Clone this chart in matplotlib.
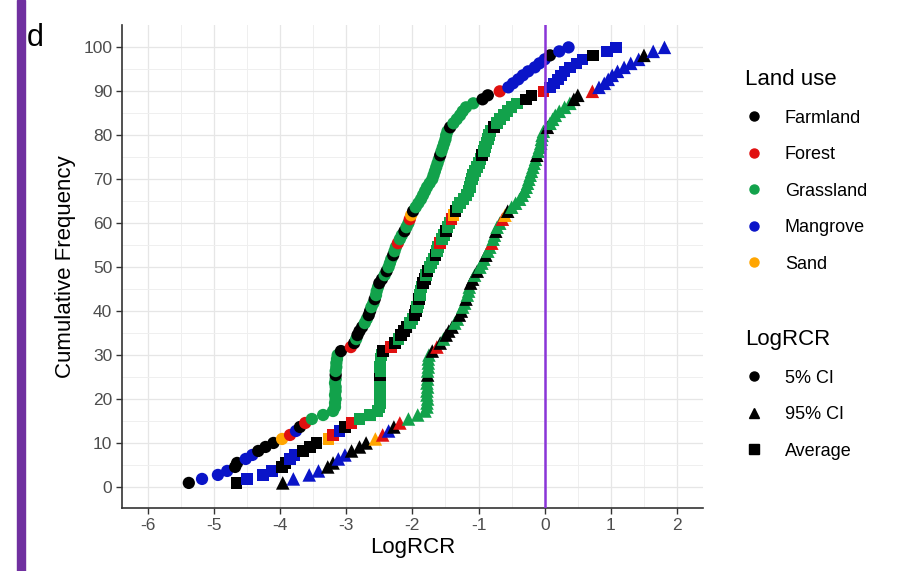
import numpy as np
import matplotlib.pyplot as plt
from matplotlib.lines import Line2D
from matplotlib.patches import Rectangle

plt.rcParams['font.family'] = ['Liberation Sans', 'DejaVu Sans']
plt.rcParams['axes.unicode_minus'] = False

# land use classes and their colours
land_use_names = ['Farmland', 'Forest', 'Grassland', 'Mangrove', 'Sand']
land_use_colors = {'Farmland': '#000000', 'Forest': '#E01010', 'Grassland': '#12A24B',
                   'Mangrove': '#0A14C8', 'Sand': '#FFA500'}

# land use of each study, in rank order (run lengths)
land_use_runs = [
    ('Farmland', 1), ('Mangrove', 3), ('Farmland', 2), ('Mangrove', 2), ('Farmland', 3),
    ('Sand', 1), ('Forest', 1), ('Mangrove', 1), ('Farmland', 1), ('Forest', 1),
    ('Grassland', 11), ('Farmland', 1), ('Grassland', 5), ('Farmland', 1), ('Forest', 1),
    ('Farmland', 1), ('Grassland', 1), ('Farmland', 3), ('Grassland', 2), ('Farmland', 2),
    ('Grassland', 2), ('Farmland', 1), ('Grassland', 3), ('Farmland', 2), ('Grassland', 1),
    ('Farmland', 1), ('Grassland', 3), ('Farmland', 1), ('Grassland', 2), ('Forest', 1),
    ('Grassland', 2), ('Farmland', 1), ('Grassland', 2), ('Forest', 1), ('Sand', 1),
    ('Farmland', 1), ('Grassland', 13), ('Farmland', 1), ('Grassland', 6), ('Farmland', 1),
    ('Grassland', 6), ('Farmland', 2), ('Forest', 1), ('Mangrove', 8), ('Farmland', 1),
    ('Mangrove', 2),
]

# LogRCR values, sorted
ci5 = [
    -5.38, -5.18, -4.94, -4.80, -4.68, -4.65, -4.52, -4.42, -4.33, -4.22,
    -4.10, -3.97, -3.85, -3.76, -3.70, -3.62, -3.52, -3.35, -3.20, -3.17,
    -3.17, -3.16, -3.17, -3.16, -3.16, -3.17, -3.16, -3.16, -3.16, -3.15,
    -3.15, -3.14, -3.13, -3.08, -2.93, -2.88, -2.85, -2.83, -2.80, -2.76,
    -2.72, -2.69, -2.66, -2.64, -2.62, -2.59, -2.57, -2.55, -2.54, -2.52,
    -2.50, -2.46, -2.42, -2.39, -2.36, -2.34, -2.32, -2.29, -2.27, -2.25,
    -2.22, -2.19, -2.16, -2.12, -2.09, -2.06, -2.04, -2.02, -1.99, -1.95,
    -1.91, -1.87, -1.84, -1.81, -1.78, -1.74, -1.70, -1.68, -1.66, -1.64,
    -1.62, -1.60, -1.58, -1.56, -1.54, -1.52, -1.50, -1.49, -1.47, -1.43,
    -1.38, -1.33, -1.28, -1.24, -1.19, -1.08, -0.94, -0.86, -0.68, -0.55,
    -0.48, -0.40, -0.33, -0.25, -0.15, -0.08, 0.00, 0.08, 0.22, 0.36,
]
average = [
    -4.66, -4.50, -4.26, -4.12, -3.97, -3.92, -3.85, -3.78, -3.65, -3.55,
    -3.45, -3.27, -3.20, -3.10, -3.02, -2.92, -2.80, -2.64, -2.53, -2.50,
    -2.49, -2.50, -2.49, -2.49, -2.50, -2.49, -2.49, -2.49, -2.48, -2.49,
    -2.48, -2.48, -2.47, -2.44, -2.32, -2.26, -2.21, -2.17, -2.13, -2.09,
    -2.04, -2.00, -1.97, -1.95, -1.93, -1.91, -1.90, -1.89, -1.88, -1.86,
    -1.84, -1.81, -1.79, -1.77, -1.74, -1.71, -1.68, -1.65, -1.63, -1.61,
    -1.58, -1.55, -1.52, -1.49, -1.47, -1.44, -1.41, -1.38, -1.35, -1.32,
    -1.28, -1.23, -1.18, -1.15, -1.13, -1.12, -1.10, -1.08, -1.05, -1.02,
    -0.99, -0.97, -0.95, -0.92, -0.90, -0.88, -0.86, -0.84, -0.82, -0.77,
    -0.72, -0.68, -0.62, -0.56, -0.50, -0.42, -0.28, -0.20, -0.02, 0.08,
    0.14, 0.20, 0.25, 0.30, 0.38, 0.48, 0.57, 0.73, 0.94, 1.08,
]
ci95 = [
    -3.96, -3.80, -3.56, -3.42, -3.28, -3.20, -3.12, -3.02, -2.92, -2.80,
    -2.70, -2.56, -2.45, -2.36, -2.28, -2.19, -2.06, -1.92, -1.81, -1.78,
    -1.78, -1.77, -1.78, -1.78, -1.77, -1.78, -1.77, -1.77, -1.77, -1.76,
    -1.76, -1.76, -1.75, -1.70, -1.63, -1.58, -1.53, -1.49, -1.45, -1.40,
    -1.36, -1.32, -1.29, -1.26, -1.24, -1.21, -1.19, -1.17, -1.15, -1.14,
    -1.12, -1.09, -1.06, -1.02, -0.98, -0.95, -0.92, -0.89, -0.86, -0.83,
    -0.80, -0.78, -0.76, -0.74, -0.72, -0.68, -0.64, -0.60, -0.56, -0.50,
    -0.44, -0.38, -0.34, -0.31, -0.28, -0.26, -0.24, -0.22, -0.20, -0.18,
    -0.16, -0.14, -0.12, -0.10, -0.08, -0.06, -0.05, -0.04, -0.02, 0.04,
    0.08, 0.12, 0.16, 0.22, 0.30, 0.38, 0.44, 0.50, 0.72, 0.82,
    0.90, 0.96, 1.02, 1.10, 1.20, 1.30, 1.42, 1.50, 1.64, 1.81,
]

series_labels = ['5% CI', '95% CI', 'Average']
series_markers = {'5% CI': 'o', '95% CI': '^', 'Average': 's'}

land_use = [name for name, k in land_use_runs for _ in range(k)]
n = len(land_use)
cum_freq = np.arange(1, n + 1) / n * 100
cols = [land_use_colors[u] for u in land_use]

fig = plt.figure(figsize=(9.09, 5.71), dpi=100)
fig.patches.append(Rectangle((17 / 909, 0), 8 / 909, 1, transform=fig.transFigure,
                             color='#7030A0', zorder=0))
fig.text(27 / 909, 1 - 46 / 571, 'd', fontsize=22, va='baseline', ha='left')

ax = fig.add_axes([0.1342, 0.1103, 0.639, 0.846])

for vals, lab, sz in [(ci5, '5% CI', 78), (average, 'Average', 70), (ci95, '95% CI', 95)]:
    ax.scatter(vals, cum_freq, c=cols, marker=series_markers[lab], s=sz,
               linewidths=0, zorder=3)

ax.axvline(0, color='#8A35D8', lw=1.8, zorder=4)

ax.set_xlim(-6.39, 2.39)
ax.set_ylim(-4.8, 105.1)
ax.set_xticks(np.arange(-6, 3))
ax.set_yticks(np.arange(0, 101, 10))
ax.set_xticks(np.arange(-5.5, 2.5, 1), minor=True)
ax.set_yticks(np.arange(5, 100, 10), minor=True)
ax.grid(which='major', color='#E6E6E6', lw=0.9, zorder=0)
ax.grid(which='minor', color='#EFEFEF', lw=0.7, zorder=0)
ax.set_axisbelow(True)

for side in ['top', 'right']:
    ax.spines[side].set_visible(False)
for side in ['left', 'bottom']:
    ax.spines[side].set_color('#333333')
    ax.spines[side].set_linewidth(1.2)
ax.tick_params(which='major', length=4, width=1, color='#333333',
               labelcolor='#4D4D4D', labelsize=12.5, pad=3)
ax.tick_params(which='minor', length=0)

ax.set_xlabel('LogRCR', fontsize=16, labelpad=3)
ax.set_ylabel('Cumulative Frequency', fontsize=16, labelpad=5)

h1 = [Line2D([], [], ls='none', marker='o', ms=6.5, color=land_use_colors[nm])
      for nm in land_use_names]
leg1 = fig.legend(h1, land_use_names, title='Land use', loc='upper left',
                  bbox_to_anchor=(736 / 909, 1 - 60 / 571), frameon=False,
                  fontsize=13, title_fontsize=16, alignment='left', borderpad=0,
                  handlelength=1.0, handletextpad=1.2, labelspacing=1.08)
h2 = [Line2D([], [], ls='none', marker=series_markers[s], ms=6.5, color='black')
      for s in series_labels]
leg2 = fig.legend(h2, series_labels, title='LogRCR', loc='upper left',
                  bbox_to_anchor=(736 / 909, 1 - 320 / 571), frameon=False,
                  fontsize=13, title_fontsize=16, alignment='left', borderpad=0,
                  handlelength=1.0, handletextpad=1.2, labelspacing=1.08)

fig.savefig('out.png', dpi=100)
